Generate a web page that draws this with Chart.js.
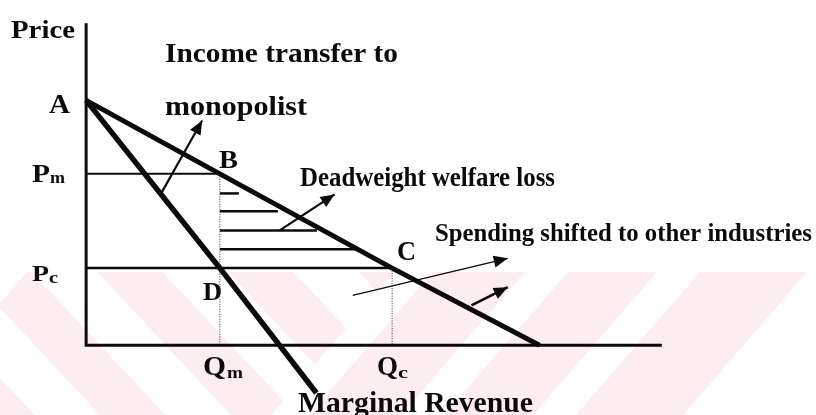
<!DOCTYPE html>
<html>
<head>
<meta charset="utf-8">
<script src="https://cdn.jsdelivr.net/npm/chart.js@4"></script>
<style>
  html, body { margin: 0; padding: 0; background: #fff; }
  #wrap { width: 816px; height: 415px; }
</style>
</head>
<body>
<div id="wrap"><canvas id="chart" width="816" height="415"></canvas></div>
<script>
// quantity / price units, origin at the corner of the axes
const demandQ = [0, 2.95, 6.75, 10];
const demandP = [10, 7.0, 3.15, 0];
const mrQ = [0, 2.95, 5.08];
const mrP = [10, 3.15, -1.95];
const Qm = 2.95, Pm = 7.0;
const Qc = 6.75, Pc = 3.15;
const axisTopP = 13.15;
const axisEndQ = 12.7;

// hatching inside the deadweight triangle
const hatchP = [6.2, 5.47, 4.69, 3.92];
const hatchEndQ = [3.37, 4.23, 5.09, 5.93];

// arrows: tail and tip as [Q, P]
const arrowFrom = [[1.63, 6.12], [4.27, 4.69], [5.88, 2.04], [8.5, 1.63]];
const arrowTo = [[2.56, 9.18], [5.48, 6.16], [9.3, 3.55], [9.3, 2.37]];
const arrowWidth = [2.2, 2.2, 1.3, 2.6];

// text
const labelText = ["Price", "Income transfer to", "monopolist", "Deadweight welfare loss",
  "Spending shifted to other industries", "Marginal Revenue", "A", "B", "C", "D"];
const labelBox = [
  { x: 11, y: 38, size: 26, w: 64 },
  { x: 165, y: 62, size: 28, w: 233 },
  { x: 165, y: 115, size: 28, w: 142 },
  { x: 300, y: 186, size: 27, w: 255 },
  { x: 435, y: 241, size: 26, w: 377 },
  { x: 298, y: 412, size: 30, w: 235 },
  { x: 49, y: 113, size: 27, w: 21 },
  { x: 219, y: 168, size: 26, w: 19 },
  { x: 397, y: 260, size: 27, w: 19 },
  { x: 203, y: 300, size: 26, w: 19 }
];
// symbols with subscripts: main letter, subscript
const symbolText = [["P", "m"], ["P", "c"], ["Q", "m"], ["Q", "c"]];
const symbolBox = [
  { x: 32, y: 182, size: 25, w: 18, sx: 50, sy: 183, ssize: 16, sw: 15 },
  { x: 32, y: 281, size: 24, w: 17, sx: 49, sy: 283, ssize: 16, sw: 9 },
  { x: 203, y: 375, size: 27, w: 23, sx: 227, sy: 378, ssize: 17, sw: 16 },
  { x: 377, y: 375, size: 27, w: 21, sx: 398, sy: 378, ssize: 17, sw: 10 }
];

const FONT = '"Liberation Serif", "Times New Roman", serif';
const INK = "#0d0a0b";

function pts(qs, ps) {
  return qs.map((q, i) => ({ x: q, y: ps[i] }));
}

function line(data, width, extra) {
  return Object.assign({
    data: data,
    showLine: true,
    borderColor: INK,
    borderWidth: width,
    pointRadius: 0,
    fill: false,
    clip: false
  }, extra || {});
}

const datasets = [
  line([{ x: 0, y: axisTopP }, { x: 0, y: 0 }, { x: axisEndQ, y: 0 }], 3),
  line([{ x: 0, y: Pm }, { x: Qm, y: Pm }], 2),
  line([{ x: 0, y: Pc }, { x: Qc, y: Pc }], 2.5),
  line([{ x: Qm, y: Pm }, { x: Qm, y: 0 }], 1, { borderDash: [1, 1.5], borderColor: "#333" }),
  line([{ x: Qc, y: Pc }, { x: Qc, y: 0 }], 1, { borderDash: [1, 1.5], borderColor: "#333" }),
  line(pts(demandQ, demandP), 5),
  line(pts(mrQ, mrP), 5.5)
];
hatchP.forEach((p, i) => {
  datasets.push(line([{ x: Qm, y: p }, { x: hatchEndQ[i], y: p }], 2.5));
});
arrowFrom.forEach((a, i) => {
  datasets.push(line([{ x: a[0], y: a[1] }, { x: arrowTo[i][0], y: arrowTo[i][1] }], arrowWidth[i]));
});

function stretchText(ctx, text, x, y, size, w) {
  ctx.font = "bold " + size + "px " + FONT;
  const m = ctx.measureText(text).width;
  ctx.save();
  ctx.translate(x, y);
  ctx.scale(w / m, 1);
  ctx.fillText(text, 0, 0);
  ctx.restore();
}

const backdrop = {
  id: "backdrop",
  beforeDraw(chart) {
    const ctx = chart.ctx;
    ctx.save();
    ctx.fillStyle = "#fff";
    ctx.fillRect(0, 0, chart.width, chart.height);
    // faint striped stamp behind the lower part of the page
    ctx.fillStyle = "rgb(253,237,241)";
    ctx.beginPath();
    ctx.rect(0, 272, 810, 143);
    ctx.clip();
    ctx.save();
    ctx.beginPath();
    ctx.moveTo(27, 272);
    ctx.lineTo(395, 272);
    ctx.lineTo(271, 415);
    ctx.lineTo(0, 415);
    ctx.lineTo(0, 303);
    ctx.closePath();
    ctx.clip();
    for (let c = -182; c < 520; c += 140) {
      ctx.beginPath();
      ctx.moveTo(-50, c - 53.5);
      ctx.lineTo(500, c + 535);
      ctx.lineTo(500, c + 605);
      ctx.lineTo(-50, c + 16.5);
      ctx.closePath();
      ctx.fill();
    }
    ctx.restore();
    [[433, 525], [568, 657], [700, 807]].forEach(([u0, u1]) => {
      ctx.beginPath();
      ctx.moveTo(u0, 272);
      ctx.lineTo(u1, 272);
      ctx.lineTo(u1 - 124, 415);
      ctx.lineTo(u0 - 124, 415);
      ctx.closePath();
      ctx.fill();
    });
    ctx.restore();
  }
};

const notes = {
  id: "notes",
  afterDatasetsDraw(chart) {
    const ctx = chart.ctx;
    const xs = chart.scales.x, ys = chart.scales.y;
    ctx.save();
    ctx.fillStyle = INK;
    // arrow heads
    arrowTo.forEach((t, i) => {
      const x0 = xs.getPixelForValue(arrowFrom[i][0]), y0 = ys.getPixelForValue(arrowFrom[i][1]);
      const x1 = xs.getPixelForValue(t[0]), y1 = ys.getPixelForValue(t[1]);
      const ang = Math.atan2(y1 - y0, x1 - x0);
      const len = 14, half = 6;
      ctx.save();
      ctx.translate(x1, y1);
      ctx.rotate(ang);
      ctx.beginPath();
      ctx.moveTo(0, 0);
      ctx.lineTo(-len, -half);
      ctx.lineTo(-len, half);
      ctx.closePath();
      ctx.fill();
      ctx.restore();
    });
    ctx.textBaseline = "alphabetic";
    labelText.forEach((t, i) => {
      const b = labelBox[i];
      stretchText(ctx, t, b.x, b.y, b.size, b.w);
    });
    symbolText.forEach((s, i) => {
      const b = symbolBox[i];
      stretchText(ctx, s[0], b.x, b.y, b.size, b.w);
      stretchText(ctx, s[1], b.sx, b.sy, b.ssize, b.sw);
    });
    ctx.restore();
  }
};

new Chart(document.getElementById("chart"), {
  type: "scatter",
  data: { datasets: datasets },
  options: {
    responsive: false,
    devicePixelRatio: 1,
    animation: false,
    layout: { padding: 0 },
    plugins: { legend: { display: false }, tooltip: { enabled: false } },
    scales: {
      x: { type: "linear", display: false, min: -1.9, max: 16.1 },
      y: { type: "linear", display: false, min: -2.85, max: 14.1 }
    }
  },
  plugins: [backdrop, notes]
});
</script>
</body>
</html>
